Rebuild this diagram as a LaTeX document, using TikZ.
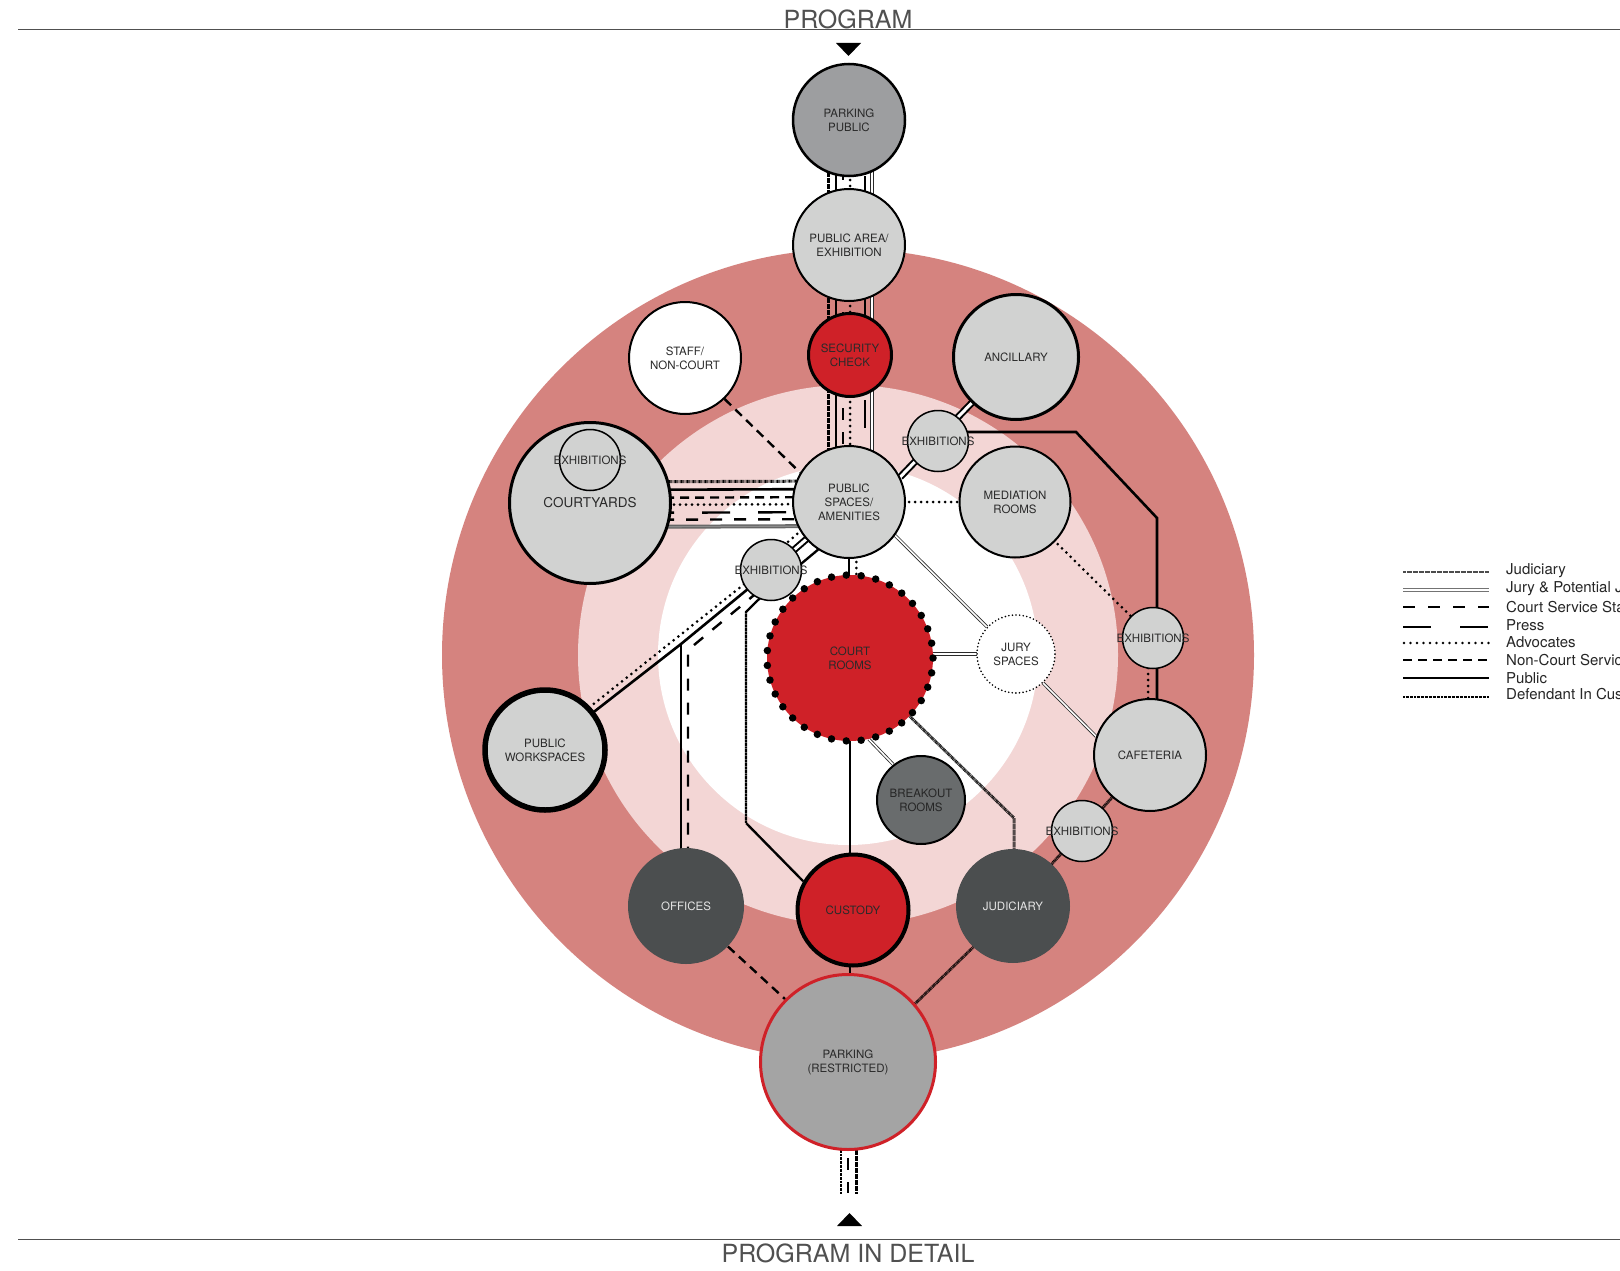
\documentclass[tikz,border=0pt]{standalone}
\usepackage{fontspec}
\setmainfont{TeX Gyre Heros}
\usetikzlibrary{calc}
\pgfdeclarelayer{bg}
\pgfdeclarelayer{lines}
\pgfsetlayers{bg,lines,main}
\definecolor{ringA}{HTML}{D5837F}
\definecolor{ringB}{HTML}{F3D6D5}
\definecolor{cred}{HTML}{CF2128}
\definecolor{lgray}{HTML}{D1D2D1}
\definecolor{mgray}{HTML}{9D9EA0}
\definecolor{pgray}{HTML}{A4A4A4}
\definecolor{dgray}{HTML}{4B4E4F}
\definecolor{bgray}{HTML}{696C6D}
\definecolor{txt}{HTML}{2A2A2A}
\definecolor{hdr}{HTML}{505050}
\definecolor{jurc}{HTML}{2A2A2A}
\newcommand{\lab}{\fontsize{11.5}{14}\selectfont}
\newcommand{\myexh}{\makebox[0pt]{EXHIBITIONS}}
\tikzset{
  nd/.style={circle, inner sep=0pt, align=center, font=\lab, text=txt},
  judic/.style={line width=3pt, dash pattern=on 0.6pt off 0.6pt},
  jury/.style={draw=jurc, double=white, line width=0.8pt, double distance=1.6pt},
  staffd/.style={line width=2.4pt, dash pattern=on 12pt off 12pt},
  press/.style={line width=2.4pt, dash pattern=on 28pt off 28pt},
  advoc/.style={line width=3pt, line cap=round, dash pattern=on 0pt off 6pt},
  noncourt/.style={line width=2.4pt, dash pattern=on 9pt off 6pt},
  public/.style={line width=2.6pt},
  pubdbl/.style={line width=2pt, double=white, double distance=3pt},
  custd/.style={line width=2.4pt, dash pattern=on 1pt off 0.35pt},
  lgtext/.style={anchor=west, inner sep=0pt, font=\fontsize{15}{18}\selectfont, text=black!85}
}
\begin{document}
\begin{tikzpicture}[x=1pt,y=-1pt]
\useasboundingbox (0,0) rectangle (1620,1271);
\clip (0,0) rectangle (1620,1271);

% background rings
\begin{pgfonlayer}{bg}
  \fill[white] (0,0) rectangle (1620,1271);
  \fill[ringA] (848,655) circle[radius=406pt];
  \fill[ringB] (848,655) circle[radius=270pt];
  \fill[white] (848,655) circle[radius=190pt];
\end{pgfonlayer}

% header / footer
\draw[hdr, line width=0.9pt] (18,29.5) -- (1620,29.5);
\node[anchor=base, inner sep=0pt, font=\fontsize{25}{30}\selectfont, text=hdr] (hd1) at (848,29) {PROGRAM};
\fill (836,43) -- (861,43) -- (848.5,56) -- cycle;
\draw[hdr, line width=0.9pt] (18,1239) -- (1620,1239);
\node[anchor=base, inner sep=0pt, font=\fontsize{25}{30}\selectfont, text=hdr] (hd2) at (848,1262) {PROGRAM IN DETAIL};
\fill (837,1226) -- (862,1226) -- (849.5,1213) -- cycle;

% nodes
\node[nd, minimum size=112pt, fill=mgray, draw, line width=2.5pt] (ppub) at (849,120) {PARKING\\PUBLIC};
\node[nd, minimum size=112pt, fill=lgray, draw, line width=2pt] (pa) at (849,245) {PUBLIC AREA/\\EXHIBITION};
\node[nd, minimum size=83pt, fill=cred, draw, line width=3pt] (sec) at (850,355) {SECURITY\\CHECK};
\node[nd, minimum size=112pt, fill=lgray, draw, line width=2pt] (ps) at (849,502) {PUBLIC\\SPACES/\\AMENITIES};
\node[nd, minimum size=161pt, fill=lgray, draw, line width=3pt, font=\fontsize{13.5}{16}\selectfont] (cy) at (590,503) {COURTYARDS};
\node[nd, minimum size=61pt, fill=lgray, draw, line width=1.5pt] (cyex) at (590,460) {\myexh};
\node[nd, minimum size=112pt, fill=white, draw, line width=2pt] (staff) at (685,358) {STAFF/\\NON-COURT};
\node[nd, minimum size=125pt, fill=lgray, draw, line width=3pt] (anc) at (1016,357) {ANCILLARY};
\node[nd, minimum size=61pt, fill=lgray, draw, line width=1.5pt] (ext) at (938,441) {\myexh};
\node[nd, minimum size=111pt, fill=lgray, draw, line width=2pt] (med) at (1015,502) {MEDIATION\\ROOMS};
\node[nd, minimum size=78pt, fill=white, draw, line width=1.8pt, line cap=round, dash pattern=on 0pt off 3.6pt] (jury) at (1016,654) {JURY\\SPACES};
\node[nd, minimum size=61pt, fill=lgray, draw, line width=1.5pt] (exr) at (1153,638) {\myexh};
\node[nd, minimum size=112pt, fill=lgray, draw, line width=2pt] (caf) at (1150,755) {CAFETERIA};
\node[nd, minimum size=61pt, fill=lgray, draw, line width=1.5pt] (exlr) at (1082,831) {\myexh};
\node[nd, minimum size=166pt, fill=cred] (court) at (850,658) {COURT\\ROOMS};
\draw[line width=7.5pt, line cap=round, dash pattern=on 0pt off 14.9pt] (court.center) circle[radius=83pt];
\node[nd, minimum size=61pt, fill=lgray, draw, line width=1.5pt] (exl) at (771,570) {\myexh};
\node[nd, minimum size=120pt, fill=lgray, draw, line width=5.5pt] (pw) at (545,750) {PUBLIC\\WORKSPACES};
\node[nd, minimum size=116pt, fill=dgray, text=white!90!black] (off) at (686,906) {OFFICES};
\node[nd, minimum size=111pt, fill=cred, draw, line width=4pt] (cust) at (853,910) {CUSTODY};
\node[nd, minimum size=114pt, fill=dgray, text=white!90!black] (jud) at (1013,906) {JUDICIARY};
\node[nd, minimum size=88pt, fill=bgray, draw, line width=2pt, text=black!85] (bo) at (921,800) {BREAKOUT\\ROOMS};
\node[nd, minimum size=175pt, fill=pgray, draw=cred, line width=3pt] (pr) at (848,1062) {PARKING\\(RESTRICTED)};

% connectors
\begin{pgfonlayer}{lines}
  % vertical entrance bundle
  \draw[judic]  ([shift={(-21,0)}]ppub.center) -- ([shift={(-21,0)}]ps.center);
  \draw[public] ([shift={(-13,0)}]ppub.center) -- ([shift={(-13,0)}]ps.center);
  \draw[staffd] ([shift={(-6,0)}]ppub.center) -- ([shift={(-6,0)}]ps.center);
  \draw[advoc]  ([shift={(1,0)}]ppub.center) -- ([shift={(1,0)}]ps.center);
  \draw[press]  ([shift={(16,0)}]ppub.center) -- ([shift={(16,0)}]ps.center);
  \draw[jury]   ([shift={(23,0)}]ppub.center) -- ([shift={(23,0)}]ps.center);
  % courtyards bundle
  \draw[judic]    ([shift={(0,-21)}]cy.center) -- ([shift={(0,-21)}]ps.center);
  \draw[public]   ([shift={(0,-13)}]cy.center) -- ([shift={(0,-13)}]ps.center);
  \draw[noncourt] ([shift={(0,-5)}]cy.center) -- ([shift={(0,-5)}]ps.center);
  \draw[advoc]    ([shift={(0,2)}]cy.center) -- ([shift={(0,2)}]ps.center);
  \draw[press]    ([shift={(0,10)}]cy.center) -- ([shift={(0,10)}]ps.center);
  \draw[staffd]   ([shift={(0,17)}]cy.center) -- ([shift={(0,17)}]ps.center);
  \draw[jury, draw=black!60, line width=1.4pt, double=black!45, double distance=1.2pt] ([shift={(0,24)}]cy.center) -- ([shift={(0,24)}]ps.center);
  % staff
  \draw[noncourt] (staff.-46) -- (ps.149);
  % ancillary
  \draw[pubdbl] (anc.center) -- (ps.26);
  % exhibitions -> cafeteria polyline
  \coordinate (k1) at (1076,432);
  \coordinate (k2) at (1157,518);
  \draw[public] ([shift={(0,-9)}]ext.center) -- (k1) -- (k2) -- (k2 |- caf.center);
  % mediation
  \draw[advoc] (ps.center) -- (med.center);
  \draw[advoc] (med.center) -- (exr.center);
  \draw[advoc] ([shift={(-5,0)}]exr.center) -- ([shift={(-2,0)}]caf.center);
  % jury
  \draw[jury] (ps.-36) -- (jury.137);
  \draw[jury] (court.center |- jury.center) -- (jury.center);
  \draw[jury] (jury.-47) -- (caf.161);
  % cafeteria -> judiciary
  \draw[judic] (caf.center) -- (exlr.center) -- (jud.center);
  % public spaces -> court rooms
  \draw[public] (ps.center) -- (ps.center |- court.center);
  \draw[advoc] ([shift={(7,0)}]ps.center) -- ([shift={(7,0)}]court.center);
  % public spaces -> exhibitions (left)
  \draw[pubdbl] (ps.center) -- (exl.center);
  \draw[advoc] ([shift={(-6.6,-7.5)}]ps.center) -- ([shift={(-6.6,-7.5)}]exl.center);
  % exhibitions (left) -> workspaces / offices
  \coordinate (j1) at (681,644);
  \draw[public] (exl.center) -- (j1) -- (pw.center);
  \draw[public] (j1) -- (j1 |- off.center);
  \draw[advoc] ([shift={(-3.5,-4.5)}]exl.center) -- ([shift={(-3.5,-4.5)}]pw.center);
  \coordinate (j2) at (688,650);
  \draw[staffd, rounded corners=3pt] ([shift={(6,6)}]exl.center) -- (j2) -- (j2 |- off.center);
  % defendant route
  \coordinate (d1) at (758,600);
  \coordinate (d2) at (746,612);
  \coordinate (d3) at (746,823);
  \draw[custd] ([shift={(-29,46)}]ps.center) -- (d1) -- (d2) -- (d3) -- (cust.150);
  % court rooms -> judiciary
  \coordinate (k3) at (1014,818);
  \draw[judic] (court.center) -- (k3) -- (k3 |- jud.center);
  % court rooms -> breakout
  \draw[jury] (court.-77) -- (bo.128);
  % court -> custody -> parking
  \draw[public] (court.center) -- (court.center |- cust.center);
  \draw[public] (court.center |- cust.center) -- (court.center |- pr.center);
  % offices / judiciary -> parking
  \draw[noncourt] (off.-44) -- (pr.135);
  \draw[judic] (jud.-134) -- (pr.41);
  % bottom exit
  \coordinate (bot) at (848,1193);
  \draw[custd] ([shift={(-7,0)}]pr.center) -- ([shift={(-7,0)}]bot);
  \draw[staffd] (pr.center) -- (bot);
  \draw[judic] ([shift={(8,0)}]pr.center) -- ([shift={(8,0)}]bot);
\end{pgfonlayer}

% legend
\draw[judic, line width=2.5pt, black!70] (1403,572) -- (1489,572);
\draw[jury, draw=black!55, line width=1pt, double distance=1.4pt] (1403,590) -- (1489,590);
\draw[line width=2.6pt, dash pattern=on 12pt off 13pt] (1403,607) -- (1489,607);
\draw[line width=2.6pt, dash pattern=on 28pt off 29pt] (1403,627) -- (1489,627);
\draw[advoc, line width=2.6pt, dash pattern=on 0pt off 6.5pt] (1404,643) -- (1489,643);
\draw[line width=2.6pt, dash pattern=on 9pt off 6pt] (1403,660) -- (1489,660);
\draw[public] (1403,678) -- (1489,678);
\draw[custd, line width=2.6pt] (1403,697) -- (1489,697);
\node[lgtext] (lg1) at (1506,571) {Judiciary};
\node[lgtext] (lg2) at (1506,589) {Jury \& Potential Jurors};
\node[lgtext] (lg3) at (1506,607) {Court Service Staff};
\node[lgtext] (lg4) at (1506,625) {Press};
\node[lgtext] (lg5) at (1506,642) {Advocates};
\node[lgtext] (lg6) at (1506,660) {Non-Court Services};
\node[lgtext] (lg7) at (1506,678) {Public};
\node[lgtext] (lg8) at (1506,696) {Defendant In Custody};
\end{tikzpicture}
\end{document}
